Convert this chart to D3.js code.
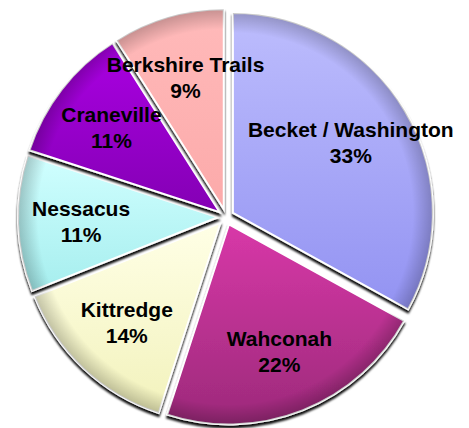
<!DOCTYPE html>
<html lang="en">
<head>
<meta charset="UTF-8">
<script src="https://d3js.org/d3.v7.min.js"></script>
<style>
  body { margin: 0; background: #fff; }
  svg { display: block; font-family: "Liberation Sans", Arial, sans-serif; }
</style>
</head>
<body>
<div id="container"></div>
<script>
  // data
  var names = ["Becket / Washington", "Wahconah", "Kittredge", "Nessacus", "Craneville", "Berkshire Trails"];
  var shares = [33, 22, 14, 11, 11, 9];
  var labels = ["33%", "22%", "14%", "11%", "11%", "9%"];
  // top / bottom colour of each slice
  var topColors = ["#bdbdfd", "#d838a8", "#ffffe6", "#d0ffff", "#aa00e2", "#ffbaba"];
  var bottomColors = ["#9393f2", "#9c2a7a", "#f2f2bc", "#a6eeee", "#8400b4", "#fcaaaa"];

  var width = 469, height = 428;
  var cx = 226, cy = 217, radius = 200, explode = 8, labelR = 137;

  var svg = d3.select("#container").append("svg")
      .attr("width", width).attr("height", height);

  var defs = svg.append("defs");

  // drop shadow under each slice
  var f = defs.append("filter").attr("id", "shadow")
      .attr("x", "-10%").attr("y", "-10%").attr("width", "120%").attr("height", "120%");
  f.append("feDropShadow").attr("dx", 0).attr("dy", 3).attr("stdDeviation", 1)
      .attr("flood-color", "#000").attr("flood-opacity", 0.95);

  names.forEach(function (n, i) {
    var lg = defs.append("linearGradient").attr("id", "fill" + i)
        .attr("x1", 0).attr("y1", 0).attr("x2", 0).attr("y2", 1);
    lg.append("stop").attr("offset", "0%").attr("stop-color", topColors[i]);
    lg.append("stop").attr("offset", "100%").attr("stop-color", bottomColors[i]);
  });

  // dark rim along the outer edge
  var rg = defs.append("radialGradient").attr("id", "rim")
      .attr("gradientUnits", "userSpaceOnUse")
      .attr("cx", 0).attr("cy", 0).attr("r", radius);
  rg.append("stop").attr("offset", "90%").attr("stop-color", "#000").attr("stop-opacity", 0);
  rg.append("stop").attr("offset", "100%").attr("stop-color", "#000").attr("stop-opacity", 0.22);

  var pie = d3.pie().sort(null).value(function (d) { return d; });
  var arcs = pie(shares);

  var arc = d3.arc().innerRadius(0).outerRadius(radius);
  var labelArc = d3.arc().innerRadius(labelR).outerRadius(labelR);

  var g = svg.append("g").attr("transform", "translate(" + cx + "," + cy + ")");

  var slice = g.selectAll("g.slice").data(arcs).enter().append("g")
      .attr("class", "slice")
      .attr("transform", function (d) {
        var a = (d.startAngle + d.endAngle) / 2;
        return "translate(" + (Math.sin(a) * explode) + "," + (-Math.cos(a) * explode) + ")";
      });

  slice.append("path")
      .attr("d", arc)
      .attr("fill", function (d, i) { return "url(#fill" + i + ")"; })
      .attr("stroke", "#fff")
      .attr("stroke-width", 2)
      .attr("filter", "url(#shadow)");

  slice.append("path")
      .attr("d", arc)
      .attr("fill", "url(#rim)");

  // labels on top
  var lab = g.selectAll("g.lab").data(arcs).enter().append("g")
      .attr("class", "lab")
      .attr("transform", function (d) {
        var a = (d.startAngle + d.endAngle) / 2;
        var c = labelArc.centroid(d);
        return "translate(" + (c[0] + Math.sin(a) * explode) + "," + (c[1] - Math.cos(a) * explode) + ")";
      })
      .attr("text-anchor", "middle")
      .style("font-size", "21px")
      .style("font-weight", "bold")
      .attr("fill", "#000");

  lab.append("text").attr("y", -6).text(function (d, i) { return names[i]; });
  lab.append("text").attr("y", 20).text(function (d, i) { return labels[i]; });
</script>
</body>
</html>
